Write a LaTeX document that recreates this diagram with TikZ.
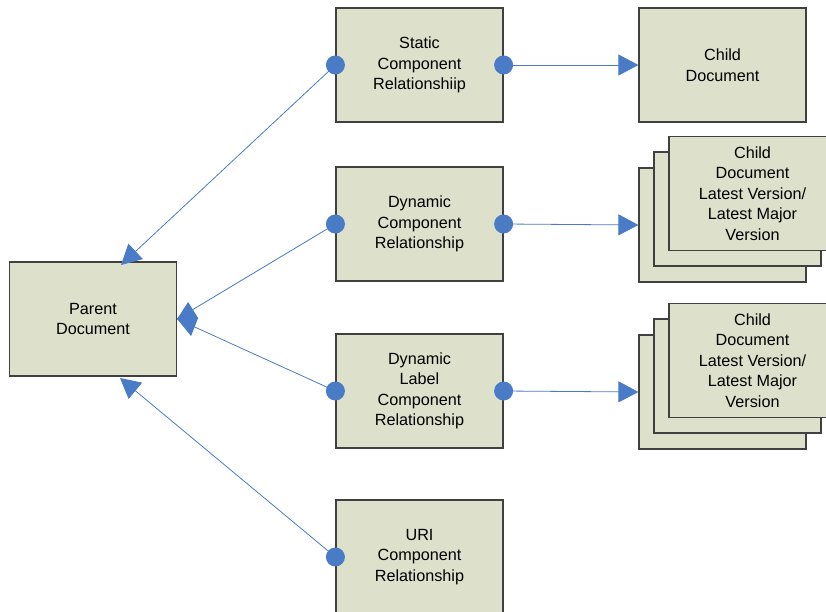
\documentclass[tikz,border=0pt]{standalone}
\usepackage{fontspec}
\setmainfont{Liberation Sans}
\usetikzlibrary{arrows.meta}
\definecolor{boxfill}{HTML}{DDE0CA}
\definecolor{boxline}{HTML}{404040}
\definecolor{conblue}{HTML}{4A7BC6}
\tikzset{
  docbox/.style={draw=boxline, line width=1.2pt, fill=boxfill, minimum width=167pt, minimum height=114pt, inner sep=0pt, align=center, font=\fontsize{16.2pt}{20.5pt}\selectfont},
  dotnode/.style={circle, fill=conblue, minimum size=19pt, inner sep=0pt},
  conn/.style={draw=conblue, line width=0.8pt},
  tri/.style={conn, -{Triangle[length=20pt,width=21pt]}},
  diamondfill/.style={fill=conblue}
}
\begin{document}
\begin{tikzpicture}[x=1pt,y=-1pt]
\useasboundingbox (0,0) rectangle (826,612);
% boxes
\node[docbox] (parent) at (93,319) {Parent\\Document};
\node[docbox] (static) at (419.5,65) {Static\\Component\\Relationshiip};
\node[docbox] (dynamic) at (419.5,224) {Dynamic\\Component\\Relationship};
\node[docbox] (label) at (419.5,391) {Dynamic\\Label\\Component\\Relationship};
\node[docbox] (uri) at (419.5,557) {URI\\Component\\Relationship};
\node[docbox] (child) at (722.5,65) {Child\\Document};
% stack 1
\node[docbox] (sa1) at (722.5,225) {};
\node[docbox] (sa2) at (737.5,209) {};
\node[docbox] (sa3) at (752.5,193.5) {Child\\Document\\Latest Version/\\Latest Major\\Version};
% stack 2
\node[docbox] (sb1) at (722.5,392) {};
\node[docbox] (sb2) at (737.5,376) {};
\node[docbox] (sb3) at (752.5,360.5) {Child\\Document\\Latest Version/\\Latest Major\\Version};
% coordinates on parent
\coordinate (ptop) at (121,265);
\coordinate (pbot) at (120,378);
% connectors
\draw[tri] (static.east) -- (child.west);
\draw[tri] (dynamic.east) -- (sa1.west);
\draw[tri] (label.east) -- (sb1.west);
\draw[tri] (static.west) -- (ptop);
\draw[tri] (uri.west) -- (pbot);
\draw[conn] (dynamic.west) -- (parent.east);
\draw[conn] (label.west) -- (parent.east);
% aggregation diamond
\fill[diamondfill] (parent.east) -- ++(11,-17) -- ++(10,16) -- ++(-7,18) -- cycle;
% dots
\node[dotnode] (d1) at (static.west) {};
\node[dotnode] (d2) at (static.east) {};
\node[dotnode] (d3) at (dynamic.west) {};
\node[dotnode] (d4) at (dynamic.east) {};
\node[dotnode] (d5) at (label.west) {};
\node[dotnode] (d6) at (label.east) {};
\node[dotnode] (d7) at (uri.west) {};
\end{tikzpicture}
\end{document}
